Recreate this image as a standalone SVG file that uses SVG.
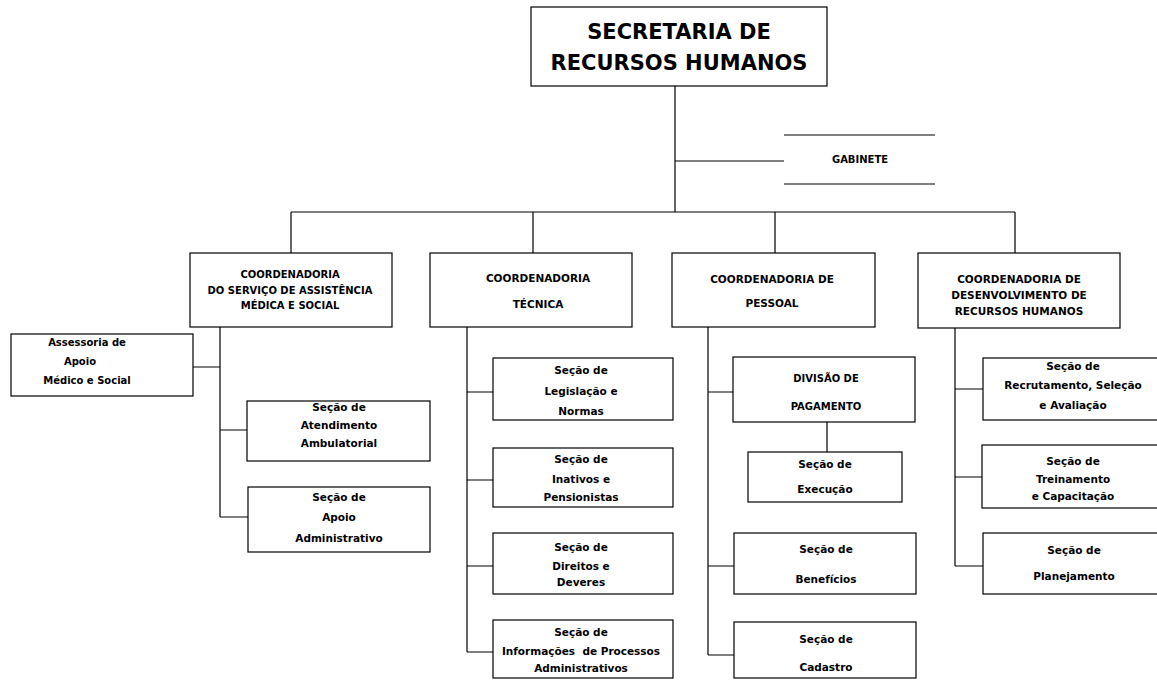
<svg xmlns="http://www.w3.org/2000/svg" width="1157" height="683" viewBox="0 0 1157 683">
<style>
.bx{fill:#fff;stroke:#000;stroke-width:1.2}
.ln{stroke:#000;stroke-width:1.2;fill:none}
text{font-family:"DejaVu Sans","Liberation Sans",sans-serif;font-weight:bold;fill:#000;text-anchor:middle}
.t{font-size:21px}
.c{font-size:10.5px}
.s{font-size:10.5px}
</style>
<rect width="1157" height="683" fill="#fff"/>
<g id="connectors">
<path class="ln" d="M675 86V212M675 161H784M291 212H1015M291 212V253M533 212V253M775 212V253M1015 212V253"/>
<path class="ln" d="M220 327V517M193 367H220M220 430H247M220 517H248"/>
<path class="ln" d="M467 327V652M467 392H493M467 480H493M467 566H493M467 652H493"/>
<path class="ln" d="M708 327V655M708 392H733M708 566H734M708 655H734M827 422V452"/>
<path class="ln" d="M955 328V566M955 389H983M955 477H982M955 566H983"/>
</g>
<g id="secretaria">
<rect class="bx" x="531" y="7" width="296" height="79"/>
<text class="t" x="679" y="39">SECRETARIA DE</text>
<text class="t" x="679" y="70">RECURSOS HUMANOS</text>
</g>
<g id="gabinete">
<path class="ln" d="M784 135H935M784 184H935"/>
<text class="c" x="860" y="163" style="font-size:10px">GABINETE</text>
</g>
<g id="coord-assistencia">
<rect class="bx" x="190" y="253" width="202" height="74"/>
<text class="c" x="290" y="278" style="font-size:10px">COORDENADORIA</text>
<text class="c" x="290" y="294" style="font-size:10px">DO SERVIÇO DE ASSISTÊNCIA</text>
<text class="c" x="290" y="309" style="font-size:10px">MÉDICA E SOCIAL</text>
</g>
<g id="coord-tecnica">
<rect class="bx" x="430" y="253" width="202" height="74"/>
<text class="c" x="538" y="282">COORDENADORIA</text>
<text class="c" x="538" y="308">TÉCNICA</text>
</g>
<g id="coord-pessoal">
<rect class="bx" x="672" y="253" width="203" height="74"/>
<text class="c" x="772" y="283">COORDENADORIA DE</text>
<text class="c" x="772" y="307">PESSOAL</text>
</g>
<g id="coord-desenvolvimento">
<rect class="bx" x="918" y="253" width="202" height="75"/>
<text class="c" x="1019" y="283">COORDENADORIA DE</text>
<text class="c" x="1019" y="299">DESENVOLVIMENTO DE</text>
<text class="c" x="1019" y="315">RECURSOS HUMANOS</text>
</g>
<g id="assessoria">
<rect class="bx" x="11" y="334" width="182" height="62"/>
<text class="s" x="87" y="346" style="font-size:10px">Assessoria de</text>
<text class="s" x="80" y="365" style="font-size:10px">Apoio</text>
<text class="s" x="87" y="384" style="font-size:10px">Médico e Social</text>
</g>
<g id="atendimento">
<rect class="bx" x="247" y="401" width="183" height="60"/>
<text class="s" x="339" y="411">Seção de</text>
<text class="s" x="339" y="429">Atendimento</text>
<text class="s" x="339" y="447">Ambulatorial</text>
</g>
<g id="apoio-adm">
<rect class="bx" x="248" y="487" width="182" height="65"/>
<text class="s" x="339" y="501">Seção de</text>
<text class="s" x="339" y="521">Apoio</text>
<text class="s" x="339" y="542">Administrativo</text>
</g>
<g id="legislacao">
<rect class="bx" x="493" y="358" width="180" height="62"/>
<text class="s" x="581" y="374">Seção de</text>
<text class="s" x="581" y="395">Legislação e</text>
<text class="s" x="581" y="415">Normas</text>
</g>
<g id="inativos">
<rect class="bx" x="493" y="448" width="180" height="59"/>
<text class="s" x="581" y="463">Seção de</text>
<text class="s" x="581" y="483">Inativos e</text>
<text class="s" x="581" y="501">Pensionistas</text>
</g>
<g id="direitos">
<rect class="bx" x="493" y="533" width="180" height="61"/>
<text class="s" x="581" y="551">Seção de</text>
<text class="s" x="581" y="570">Direitos e</text>
<text class="s" x="581" y="586">Deveres</text>
</g>
<g id="informacoes">
<rect class="bx" x="493" y="620" width="180" height="58"/>
<text class="s" x="581" y="636">Seção de</text>
<text class="s" x="581" y="655" xml:space="preserve">Informações  de Processos</text>
<text class="s" x="581" y="672">Administrativos</text>
</g>
<g id="divisao-pagamento">
<rect class="bx" x="733" y="357" width="182" height="65"/>
<text class="c" x="826" y="382" style="font-size:10px">DIVISÃO DE</text>
<text class="c" x="826" y="410" style="font-size:10px">PAGAMENTO</text>
</g>
<g id="execucao">
<rect class="bx" x="748" y="452" width="154" height="50"/>
<text class="s" x="825" y="468">Seção de</text>
<text class="s" x="825" y="493">Execução</text>
</g>
<g id="beneficios">
<rect class="bx" x="734" y="533" width="182" height="61"/>
<text class="s" x="826" y="553">Seção de</text>
<text class="s" x="826" y="583">Benefícios</text>
</g>
<g id="cadastro">
<rect class="bx" x="734" y="622" width="182" height="56"/>
<text class="s" x="826" y="643">Seção de</text>
<text class="s" x="826" y="671">Cadastro</text>
</g>
<g id="recrutamento">
<rect class="bx" x="983" y="358" width="182" height="62"/>
<text class="s" x="1073" y="370">Seção de</text>
<text class="s" x="1073" y="389">Recrutamento, Seleção</text>
<text class="s" x="1073" y="409">e Avaliação</text>
</g>
<g id="treinamento">
<rect class="bx" x="982" y="445" width="183" height="63"/>
<text class="s" x="1073" y="465">Seção de</text>
<text class="s" x="1073" y="483">Treinamento</text>
<text class="s" x="1073" y="500">e Capacitação</text>
</g>
<g id="planejamento">
<rect class="bx" x="983" y="533" width="182" height="61"/>
<text class="s" x="1074" y="554">Seção de</text>
<text class="s" x="1074" y="580">Planejamento</text>
</g>
</svg>
